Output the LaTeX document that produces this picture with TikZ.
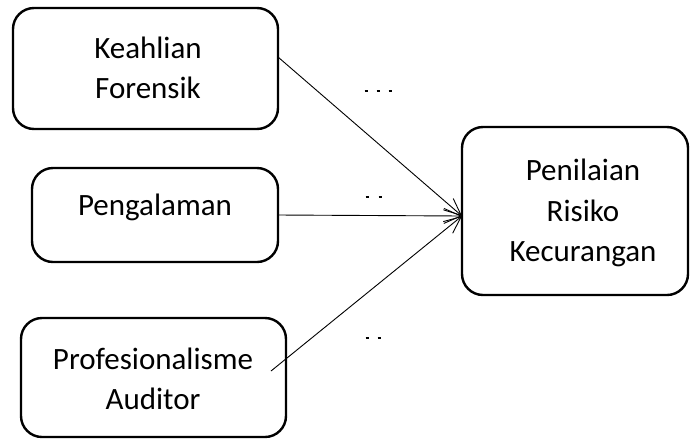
\documentclass[tikz,border=0pt]{standalone}
\usepackage{fontspec}
\setmainfont{Carlito}
\usetikzlibrary{arrows.meta}
\begin{document}
\begin{tikzpicture}[x=1pt,y=-1pt,
  boxnode/.style={draw=black, line width=2.4pt, rounded corners=21pt, inner sep=0pt},
  txt/.style={align=center, inner sep=0pt, font=\fontsize{31}{40.5}\selectfont},
  conn/.style={line width=0.9pt, -{Straight Barb[length=17pt,width=15pt,line width=0.9pt]}},
  dashmark/.style={line width=1.2pt}
]
\useasboundingbox (0,0) rectangle (696,440);
% boxes
\node[boxnode, minimum width=265pt, minimum height=121pt] (b1) at (145.5,68.5) {};
\node[boxnode, minimum width=246pt, minimum height=94pt] (b2) at (155,215) {};
\node[boxnode, minimum width=265pt, minimum height=119pt] (b3) at (153.5,377.5) {};
\node[boxnode, minimum width=226pt, minimum height=168pt] (b4) at (575,211) {};
% texts
\node[txt] (t1) at (148,68) {Keahlian\\Forensik};
\node[txt] (t2) at (155,207) {Pengalaman};
\node[txt] (t3) at (153,379) {Profesionalisme\\Auditor};
\node[txt] (t4) at (583,213) {Penilaian\\Risiko\\Kecurangan};
% connector ends
\coordinate (s1) at (278,57);
\coordinate (s2) at (278,215);
\coordinate (s3) at (271,371);
\coordinate (tip) at (462,216);
\draw[conn] (s1) -- (tip);
\draw[conn] (s2) -- (tip);
\draw[conn] (s3) -- (tip);
% small dash marks
\foreach \dx/\dy [count=\i] in {366/91,378/91,390/91,367/197,380/197,367/338,379/338}{
  \coordinate (d\i) at (\dx,\dy);
  \draw[dashmark] ([xshift=-1.5pt]d\i) -- ([xshift=1.5pt]d\i);
}
\end{tikzpicture}
\end{document}
